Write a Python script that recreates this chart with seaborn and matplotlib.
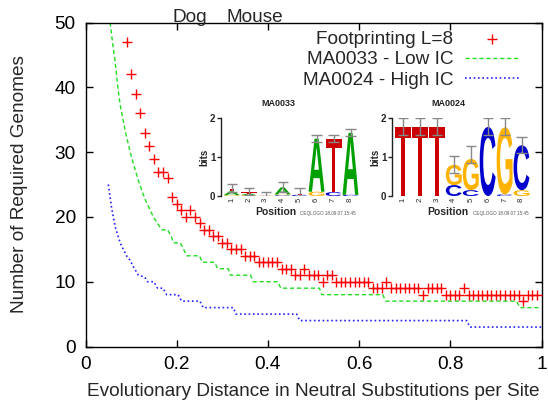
import numpy as np
import pandas as pd
import matplotlib
matplotlib.use("Agg")
import matplotlib.pyplot as plt
import seaborn as sns
from matplotlib.textpath import TextPath
from matplotlib.patches import PathPatch
from matplotlib.font_manager import FontProperties
from matplotlib.transforms import Affine2D

# ---------------- data ----------------
fp_x = [0.09, 0.10, 0.11, 0.12, 0.13, 0.14, 0.15, 0.16, 0.17, 0.18,
        0.19, 0.20, 0.21, 0.22, 0.23, 0.24, 0.25, 0.26, 0.27, 0.28,
        0.29, 0.30, 0.31, 0.32, 0.33, 0.34, 0.35, 0.36, 0.37, 0.38,
        0.39, 0.40, 0.41, 0.42, 0.43, 0.44, 0.45, 0.46, 0.47, 0.48,
        0.49, 0.50, 0.51, 0.52, 0.53, 0.54, 0.55, 0.56, 0.57, 0.58,
        0.59, 0.60, 0.61, 0.62, 0.63, 0.64, 0.65, 0.66, 0.67, 0.68,
        0.69, 0.70, 0.71, 0.72, 0.73, 0.74, 0.75, 0.76, 0.77, 0.78,
        0.79, 0.80, 0.81, 0.82, 0.83, 0.84, 0.85, 0.86, 0.87, 0.88,
        0.89, 0.90, 0.91, 0.92, 0.93, 0.94, 0.95, 0.96, 0.97, 0.98, 0.99]
fp_y = [47, 42, 39, 36, 33, 31, 29, 27, 27, 26,
        23, 22, 21, 20, 21, 20, 19, 18, 18, 17,
        17, 16, 16, 15, 15, 15, 14, 14, 14, 13,
        13, 13, 13, 13, 12, 12, 12, 11, 11, 12,
        11, 11, 11, 10, 11, 11, 10, 10, 10, 10,
        10, 10, 10, 10, 9, 9, 9, 10, 9, 9,
        9, 9, 9, 9, 9, 8, 9, 9, 9, 9,
        8, 8, 8, 8, 9, 8, 8, 8, 8, 8,
        8, 8, 8, 8, 8, 8, 8, 7, 8, 8, 8]

low_x = [0.054, 0.060, 0.065, 0.070, 0.076, 0.087, 0.098, 0.108, 0.116, 0.130,
         0.140, 0.149, 0.158, 0.167, 0.180, 0.188, 0.193, 0.208, 0.215, 0.222,
         0.250, 0.256, 0.283, 0.290, 0.313, 0.318, 0.362, 0.368, 0.422, 0.428,
         0.513, 0.518, 0.652, 0.658, 0.945, 0.953, 1.000]
low_y = [50, 46.5, 44, 40.5, 37.3, 33.3, 30, 27.5, 25.6, 22.8,
         21.3, 20, 19, 18, 18, 17, 16, 16, 15, 14,
         14, 13, 13, 12, 12, 11, 11, 10, 10, 9,
         9, 8, 8, 7, 7, 6, 6]

high_x = [0.050, 0.057, 0.065, 0.076, 0.090, 0.098, 0.105, 0.116, 0.130, 0.136,
          0.150, 0.158, 0.170, 0.178, 0.203, 0.211, 0.251, 0.258, 0.324, 0.330,
          0.463, 0.470, 0.836, 0.843, 1.000]
high_y = [25, 21.5, 18.5, 16, 14, 13.3, 12.3, 11, 10.7, 10,
          10, 9, 9, 8, 8, 7, 7, 6, 6, 5,
          5, 4, 4, 3, 3]

x_ticks = [0, 0.2, 0.4, 0.6, 0.8, 1]
x_tick_labels = ["0", "0.2", "0.4", "0.6", "0.8", "1"]
y_ticks = [0, 10, 20, 30, 40, 50]

top_labels = ["Dog", "Mouse"]
top_label_x = [0.229, 0.372]

# sequence logos: stacks bottom -> top (letter, bits), error bar ranges
ma0033_stacks = [
    [("G", 0.02), ("A", 0.10), ("T", 0.06)],
    [("G", 0.02), ("A", 0.04), ("T", 0.03)],
    [("G", 0.01)],
    [("C", 0.02), ("G", 0.02), ("A", 0.18)],
    [("C", 0.03), ("T", 0.03)],
    [("G", 0.11), ("A", 1.36)],
    [("C", 0.10), ("T", 1.36)],
    [("C", 0.03), ("A", 1.59)],
]
ma0033_err_lo = [0.10, 0.02, 0.00, 0.10, 0.00, 1.38, 1.38, 1.55]
ma0033_err_hi = [0.32, 0.20, 0.10, 0.35, 0.20, 1.57, 1.57, 1.73]

ma0024_stacks = [
    [("T", 1.77)],
    [("T", 1.77)],
    [("T", 1.77)],
    [("C", 0.28), ("G", 0.52)],
    [("C", 0.15), ("G", 0.80)],
    [("C", 1.77)],
    [("C", 0.04), ("G", 1.72)],
    [("G", 0.15), ("C", 1.15)],
]
ma0024_err_lo = [1.57, 1.57, 1.57, 0.60, 0.85, 1.57, 1.57, 1.10]
ma0024_err_hi = [2.00, 2.00, 2.00, 1.02, 1.27, 2.00, 2.00, 1.52]

letter_colors = {"A": "#00a000", "C": "#0000cc", "G": "#ffb300", "T": "#cc0000"}

# ---------------- style ----------------
sns.set_style("ticks")
plt.rcParams["font.family"] = ["Liberation Sans", "DejaVu Sans"]
FS = 13.7

W, H = 548, 404
fig = plt.figure(figsize=(W / 100, H / 100), dpi=100)


def fig_rect(x0, y0, x1, y1):
    """pixel box (top-left origin) -> figure fraction rect"""
    return [x0 / W, (H - y1) / H, (x1 - x0) / W, (y1 - y0) / H]


ax = fig.add_axes(fig_rect(85.5, 22.5, 541.5, 346.5))

df_fp = pd.DataFrame({"x": fp_x, "y": fp_y})
df_low = pd.DataFrame({"x": low_x, "y": low_y})
df_high = pd.DataFrame({"x": high_x, "y": high_y})

sns.scatterplot(data=df_fp, x="x", y="y", marker="+", s=55, color="#ff0000",
                linewidth=1.0, ax=ax, label="Footprinting L=8", zorder=3)
sns.lineplot(data=df_low, x="x", y="y", sort=False, estimator=None, ax=ax,
             color="#22dd22", lw=1.0, label="MA0033 - Low IC")
ax.lines[-1].set_dashes((3, 2))
sns.lineplot(data=df_high, x="x", y="y", sort=False, estimator=None, ax=ax,
             color="#2222ff", lw=1.2, label="MA0024 - High IC")
ax.lines[-1].set_dashes((1, 1.6))

ax.set_xlim(0, 1)
ax.set_ylim(0, 50)
ax.set_xticks(x_ticks)
ax.set_xticklabels(x_tick_labels)
ax.set_yticks(y_ticks)
ax.tick_params(direction="in", length=5, width=1, top=True, right=True,
               labelsize=FS, pad=7, colors="black")
for s in ax.spines.values():
    s.set_linewidth(1.0)
    s.set_color("black")
ax.set_xlabel("Evolutionary Distance in Neutral Substitutions per Site", fontsize=FS, labelpad=7)
ax.set_ylabel("Number of Required Genomes", fontsize=FS, labelpad=19)

for lab, xv in zip(top_labels, top_label_x):
    ax.text(xv, 1.0, lab, transform=ax.get_xaxis_transform(), ha="center",
            va="baseline", fontsize=FS)

leg = ax.legend(loc="upper right", bbox_to_anchor=(0.953, 0.975), frameon=False,
                markerfirst=False, fontsize=FS, handlelength=2.9, handletextpad=0.6,
                labelspacing=0.16, borderaxespad=0, borderpad=0)
for t in leg.get_texts():
    t.set_ha("right")
leg._legend_box.align = "right"

# ---------------- logos ----------------
logo_font = FontProperties(family="Liberation Sans", weight="bold")


def draw_letter(lax, letter, xc, y0, h, width=0.94):
    tp = TextPath((0, 0), letter, size=1, prop=logo_font)
    bb = tp.get_extents()
    tr = (Affine2D().translate(-bb.x0, -bb.y0)
          .scale(width / bb.width, h / bb.height)
          .translate(xc - width / 2, y0))
    lax.add_patch(PathPatch(tr.transform_path(tp), facecolor=letter_colors[letter],
                            edgecolor="none", zorder=2))


def draw_logo(box, name, stacks, err_lo, err_hi, xleft, pos_lab_x, ceq_x, title_x):
    lax = fig.add_axes(fig_rect(*box))
    lax.set_xlim(xleft, 8.5)
    lax.set_ylim(0, 2)
    lax.patch.set_alpha(0)
    positions = list(range(1, len(stacks) + 1))
    for p, stack in zip(positions, stacks):
        y0 = 0
        for letter, h in stack:
            draw_letter(lax, letter, p, y0, h)
            y0 += h
    lax.vlines(positions, err_lo, err_hi, color="#888888", lw=1, zorder=3)
    lax.hlines(err_lo, [p - 0.3 for p in positions], [p + 0.3 for p in positions],
               color="#888888", lw=1, zorder=3)
    lax.hlines(err_hi, [p - 0.3 for p in positions], [p + 0.3 for p in positions],
               color="#888888", lw=1, zorder=3)
    for sp in ["top", "right", "bottom"]:
        lax.spines[sp].set_visible(False)
    lax.spines["left"].set_linewidth(1.0)
    lax.spines["left"].set_color("#222222")
    lax.set_yticks([0, 1, 2])
    lax.set_yticklabels(["0", "1", "2"], fontweight="bold", fontsize=7)
    lax.tick_params(axis="y", direction="out", length=3, width=1, pad=1)
    lax.set_xticks(positions)
    lax.set_xticklabels([str(p) for p in positions], rotation=90, fontsize=5.5)
    lax.tick_params(axis="x", length=0, pad=1)
    lax.text(-0.12, 0.5, "bits", transform=lax.transAxes, rotation=90, ha="center",
             va="center", fontsize=7, fontweight="bold")
    lax.text(pos_lab_x, -0.21, "Position", transform=lax.transAxes, ha="center",
             va="center", fontsize=7.5, fontweight="bold")
    lax.text(ceq_x, -0.23, "CEQLOGO 18.09.07 15:45", transform=lax.transAxes,
             ha="left", va="center", fontsize=3.3, color="#555555")
    lax.text(title_x, 1.18, name, transform=lax.transAxes, ha="center",
             va="center", fontsize=6.5, fontweight="bold", color="#222222")


draw_logo((221, 118, 359, 196), "MA0033", ma0033_stacks, ma0033_err_lo, ma0033_err_hi,
          0.37, 0.40, 0.572, 0.413)
draw_logo((392, 118, 530, 196), "MA0024", ma0024_stacks, ma0024_err_lo, ma0024_err_hi,
          0.35, 0.406, 0.587, 0.406)

fig.savefig("out.png", dpi=100)
